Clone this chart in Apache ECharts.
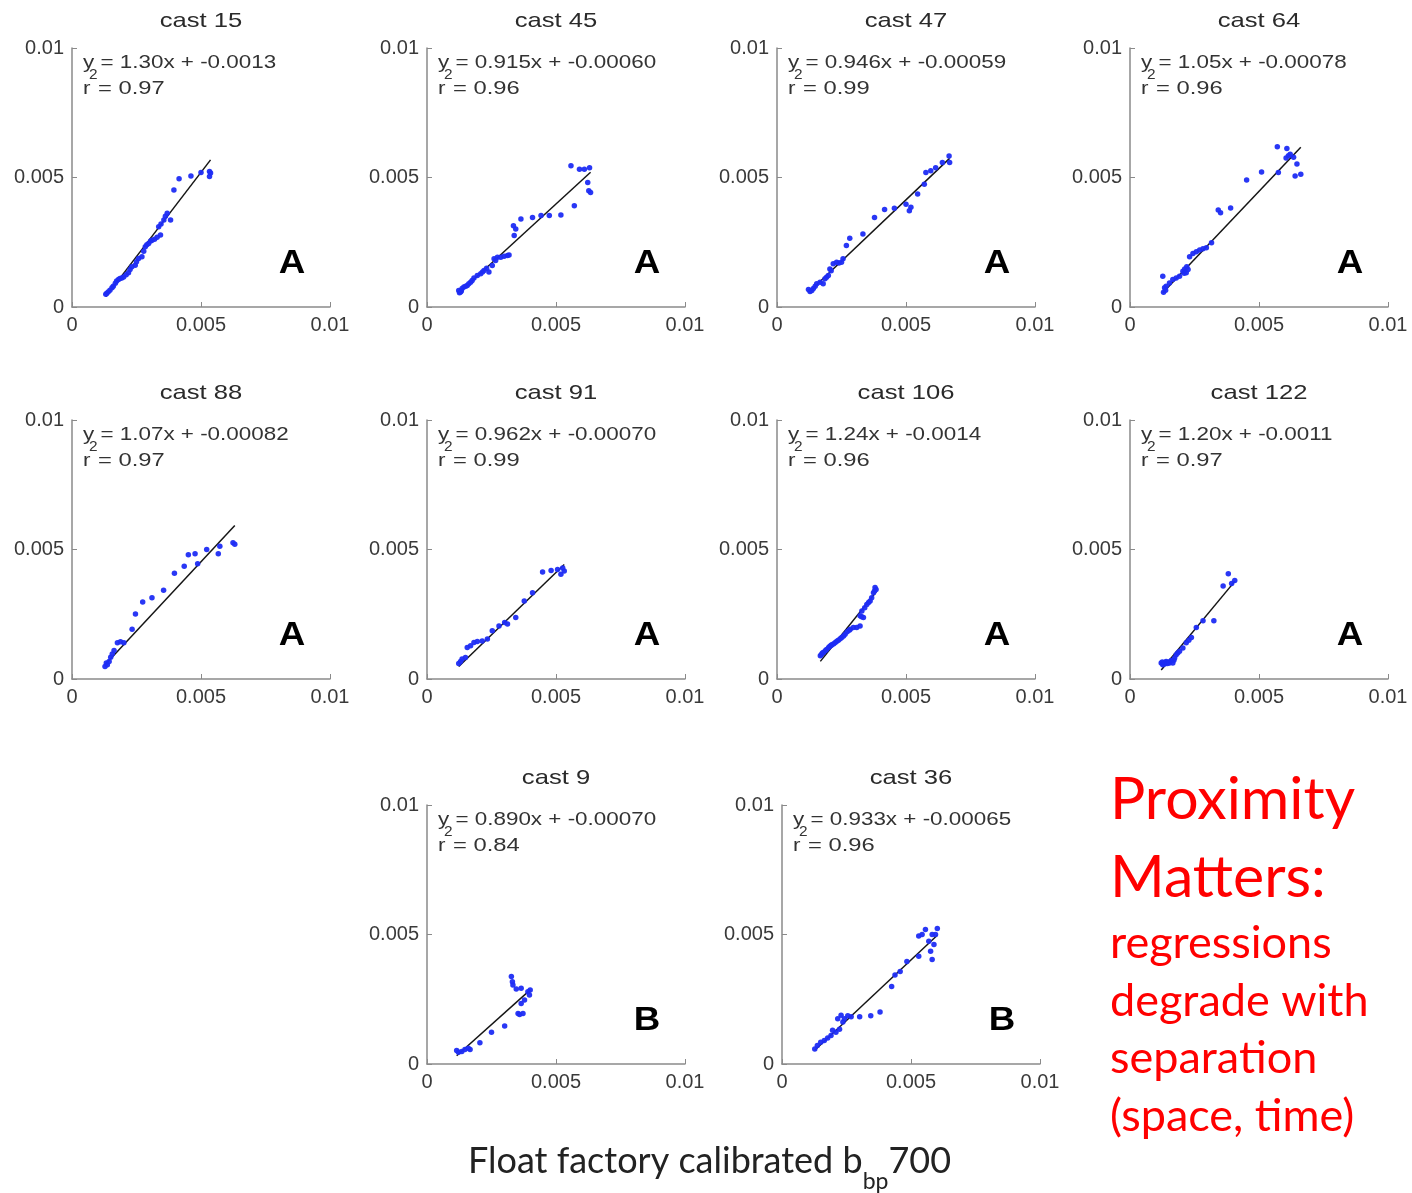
<!DOCTYPE html>
<html>
<head>
<meta charset="utf-8">
<script src="https://cdn.jsdelivr.net/npm/echarts@6/dist/echarts.min.js"></script>
<style>
  html, body { margin: 0; padding: 0; background: #fff; }
  #chart { width: 1412px; height: 1193px; }
</style>
</head>
<body>
<div id="chart"></div>
<script>
// all bbp values below are in units of 0.001 (converted when building the series)
const TITLES = ['cast 15', 'cast 45', 'cast 47', 'cast 64', 'cast 88', 'cast 91', 'cast 106', 'cast 122', 'cast 9', 'cast 36'];
const EQUATIONS = ['y = 1.30x + -0.0013', 'y = 0.915x + -0.00060', 'y = 0.946x + -0.00059', 'y = 1.05x + -0.00078',
  'y = 1.07x + -0.00082', 'y = 0.962x + -0.00070', 'y = 1.24x + -0.0014', 'y = 1.20x + -0.0011',
  'y = 0.890x + -0.00070', 'y = 0.933x + -0.00065'];
const R2 = ['0.97', '0.96', '0.99', '0.96', '0.97', '0.99', '0.96', '0.97', '0.84', '0.96'];
const GROUPS = ['A', 'A', 'A', 'A', 'A', 'A', 'A', 'A', 'B', 'B'];
const TICK_LABELS = ['0', '0.005', '0.01'];

const cast15 = [[1.31,0.49],[1.34,0.52],[1.40,0.58],[1.47,0.65],[1.55,0.74],[1.60,0.80],[1.68,0.92],[1.73,1.00],[1.80,1.06],
  [1.86,1.10],[1.93,1.12],[2.00,1.16],[2.10,1.25],[2.19,1.32],[2.25,1.45],[2.32,1.55],[2.45,1.61],[2.50,1.75],[2.58,1.87],
  [2.71,1.94],[2.78,2.15],[2.84,2.33],[2.90,2.40],[2.97,2.45],[3.05,2.55],[3.10,2.58],[3.20,2.62],[3.30,2.69],[3.43,2.78],
  [3.36,3.10],[3.45,3.20],[3.56,3.36],[3.62,3.50],[3.69,3.62],[3.82,3.36],[3.95,4.52],[4.15,4.95],[4.61,5.06],[5.00,5.19],
  [5.33,5.23],[5.33,5.04],[5.37,5.17]];
const cast45 = [[1.23,0.64],[1.26,0.55],[1.30,0.58],[1.33,0.62],[1.36,0.71],[1.43,0.77],[1.50,0.80],[1.56,0.83],[1.62,0.90],
  [1.69,0.96],[1.75,1.02],[1.82,1.12],[1.95,1.22],[2.08,1.28],[2.15,1.35],[2.21,1.41],[2.31,1.50],[2.40,1.35],[2.53,1.60],
  [2.60,1.86],[2.66,1.80],[2.73,1.92],[2.86,1.92],[2.99,1.96],[3.12,1.99],[3.18,2.01],[3.38,2.76],[3.44,3.01],[3.35,3.14],
  [3.64,3.40],[4.09,3.46],[4.42,3.53],[4.74,3.53],[5.19,3.55],[5.71,3.91],[5.58,5.45],[5.91,5.32],[6.10,5.32],[6.30,5.38],
  [6.23,4.81],[6.27,4.49],[6.34,4.42]];
const cast47 = [[1.22,0.68],[1.28,0.60],[1.35,0.64],[1.41,0.71],[1.48,0.80],[1.54,0.90],[1.67,0.96],[1.79,0.90],[1.86,1.09],
  [1.92,1.15],[1.99,1.22],[2.05,1.47],[2.10,1.40],[2.18,1.67],[2.31,1.73],[2.40,1.70],[2.50,1.73],[2.56,1.86],[2.69,2.37],
  [2.82,2.65],[3.33,2.82],[3.78,3.46],[4.17,3.76],[4.55,3.81],[5.00,3.97],[5.13,3.72],[5.19,3.85],[5.45,4.36],[5.71,4.74],
  [5.77,5.19],[5.96,5.26],[6.15,5.38],[6.41,5.58],[6.67,5.83],[6.69,5.58]];
const cast64 = [[1.27,1.19],[1.30,0.57],[1.34,0.74],[1.38,0.65],[1.40,0.80],[1.53,0.93],[1.66,1.06],[1.79,1.12],[1.92,1.19],
  [2.05,1.38],[2.10,1.30],[2.12,1.47],[2.18,1.32],[2.25,1.45],[2.20,1.55],[2.31,1.94],[2.44,2.07],[2.57,2.13],[2.70,2.20],
  [2.83,2.25],[2.96,2.29],[3.16,2.48],[3.42,3.75],[3.51,3.64],[3.90,3.82],[4.52,4.90],[5.10,5.21],[5.75,5.19],[5.71,6.19],
  [6.08,6.12],[6.21,5.90],[6.14,5.84],[6.05,5.75],[6.34,5.78],[6.40,5.06],[6.47,5.52],[6.62,5.13]];
const cast88 = [[1.28,0.48],[1.33,0.62],[1.37,0.55],[1.44,0.68],[1.50,0.84],[1.56,0.97],[1.63,1.10],[1.76,1.40],[1.88,1.44],
  [2.01,1.40],[2.33,1.92],[2.46,2.51],[2.74,2.97],[3.10,3.14],[3.55,3.43],[3.97,4.08],[4.35,4.35],[4.51,4.80],[4.77,4.84],
  [4.87,4.45],[5.22,5.00],[5.67,4.84],[5.73,5.13],[6.24,5.26],[6.31,5.20]];
const cast91 = [[1.23,0.60],[1.30,0.68],[1.36,0.77],[1.49,0.83],[1.56,1.22],[1.69,1.28],[1.82,1.41],[1.95,1.45],[2.14,1.47],
  [2.34,1.54],[2.53,1.86],[2.79,2.05],[3.01,2.18],[3.12,2.12],[3.44,2.37],[3.77,3.01],[4.09,3.33],[4.48,4.13],[4.81,4.19],
  [5.06,4.23],[5.19,4.04],[5.32,4.17],[5.26,4.29]];
const cast106 = [[1.68,0.90],[1.72,0.95],[1.76,1.00],[1.80,1.02],[1.87,1.09],[1.92,1.14],[2.00,1.22],[2.05,1.26],[2.10,1.30],
  [2.13,1.32],[2.20,1.36],[2.26,1.41],[2.32,1.46],[2.38,1.50],[2.45,1.55],[2.51,1.60],[2.58,1.66],[2.64,1.73],[2.72,1.82],
  [2.80,1.88],[2.84,1.92],[2.96,1.99],[3.09,1.99],[3.22,2.05],[3.22,2.44],[3.28,2.40],[3.35,2.37],[3.29,2.63],[3.40,2.75],
  [3.48,2.88],[3.55,2.95],[3.61,3.01],[3.67,3.14],[3.74,3.33],[3.80,3.53],[3.84,3.46],[3.78,3.40]];
const cast122 = [[1.21,0.62],[1.25,0.66],[1.27,0.55],[1.30,0.60],[1.34,0.58],[1.37,0.64],[1.40,0.68],[1.45,0.60],[1.50,0.66],
  [1.53,0.62],[1.60,0.71],[1.66,0.62],[1.70,0.72],[1.73,0.81],[1.79,0.94],[1.85,1.00],[1.92,1.07],[2.05,1.20],[2.18,1.40],
  [2.28,1.50],[2.38,1.60],[2.57,1.99],[2.83,2.25],[3.25,2.25],[3.61,3.59],[3.81,4.06],[3.94,3.69],[4.06,3.80]];
const cast9 = [[1.15,0.52],[1.22,0.45],[1.35,0.48],[1.47,0.56],[1.60,0.61],[1.67,0.56],[2.05,0.82],[2.50,1.23],[3.01,1.47],
  [3.27,3.38],[3.31,3.18],[3.33,3.05],[3.46,2.90],[3.65,2.92],[3.53,1.95],[3.59,1.91],[3.72,1.95],[3.65,2.34],[3.78,2.47],
  [3.91,2.79],[3.97,2.66],[4.00,2.86]];
const cast36 = [[1.27,0.58],[1.37,0.71],[1.50,0.84],[1.64,0.91],[1.77,1.00],[1.90,1.10],[1.96,1.30],[2.09,1.23],[2.23,1.34],
  [2.16,1.75],[2.29,1.88],[2.36,1.62],[2.42,1.75],[2.55,1.86],[2.68,1.82],[3.01,1.82],[3.44,1.86],[3.80,2.01],[4.25,2.99],
  [4.38,3.44],[4.58,3.57],[4.84,3.96],[5.30,4.16],[5.30,4.94],[5.43,5.00],[5.56,5.19],[5.69,4.74],[5.76,4.35],[5.82,4.03],
  [5.89,4.61],[5.95,5.00],[6.02,5.23],[5.82,5.00]];
const POINTS = [cast15, cast45, cast47, cast64, cast88, cast91, cast106, cast122, cast9, cast36];

// regression line end points (units of 0.001), from the printed fits over each data range
const FIT_LINES = [
  [[1.31,0.40],[5.37,5.68]], [[1.23,0.53],[6.34,5.20]], [[1.22,0.56],[6.69,5.74]], [[1.27,0.55],[6.62,6.17]],
  [[1.28,0.55],[6.31,5.93]], [[1.23,0.48],[5.32,4.42]], [[1.68,0.68],[3.84,3.36]], [[1.21,0.35],[4.06,3.77]],
  [[1.15,0.32],[4.00,2.86]], [[1.27,0.53],[6.02,4.97]]
];

const NOTE_BIG = ['Proximity', 'Matters:'];
const NOTE_SMALL = ['regressions', 'degrade with', 'separation', '(space, time)'];

// panel placement (px)
const PANELS = [
  [72, 48], [427, 48], [777, 48], [1130, 48],
  [72, 420], [427, 420], [777, 420], [1130, 420],
  [427, 805], [782, 805]
];
const W = 258, H = 259;
const FONT = '"Liberation Sans", Arial, sans-serif';
const AXIS_GREY = '#8a8a8a';

const chart = echarts.init(document.getElementById('chart'), null, { renderer: 'canvas' });

const grid = [], xAxis = [], yAxis = [], series = [], graphic = [];

PANELS.forEach(([left, top], i) => {
  grid.push({ left: left, top: top, width: W, height: H });
  const axisBase = {
    gridIndex: i, type: 'value', min: 0, max: 0.01, interval: 0.005,
    splitLine: { show: false },
    axisLine: { lineStyle: { color: AXIS_GREY, width: 1.5 } },
    axisTick: { inside: true, length: 5, lineStyle: { color: AXIS_GREY } },
    axisLabel: {
      color: '#3a3a3a', fontSize: 20, fontFamily: FONT, margin: 8,
      formatter: v => TICK_LABELS[Math.round(v / 0.005)]
    }
  };
  xAxis.push(Object.assign({}, axisBase));
  yAxis.push(Object.assign({}, axisBase));

  series.push({
    type: 'line', xAxisIndex: i, yAxisIndex: i, z: 2,
    data: FIT_LINES[i].map(p => [p[0] * 1e-3, p[1] * 1e-3]),
    symbol: 'none', silent: true,
    lineStyle: { color: '#151515', width: 1.5 }
  });
  series.push({
    type: 'scatter', xAxisIndex: i, yAxisIndex: i, z: 3,
    data: POINTS[i].map(p => [p[0] * 1e-3, p[1] * 1e-3]),
    symbol: 'circle', symbolSize: 5.5,
    itemStyle: { color: '#1e2cf4', opacity: 0.95 }
  });

  // MATLAB-exported text looks horizontally stretched, hence the scaleX
  const txt = (x, y, text, size, sx, extra) => ({
    type: 'text', x: x, y: y, scaleX: sx, silent: true,
    style: Object.assign({ text: text, fontSize: size, fontFamily: FONT, fill: '#333',
      align: 'left', verticalAlign: 'middle' }, extra || {})
  });
  graphic.push(txt(left + W / 2, top - 27, TITLES[i], 21, 1.22, { align: 'center', fill: '#2a2a2a' }));
  graphic.push(txt(left + 11, top + 15, EQUATIONS[i], 19, 1.18));
  graphic.push(txt(left + 11, top + 41, 'r', 19, 1.18));
  graphic.push(txt(left + 17, top + 27, '2', 14, 1.1));
  graphic.push(txt(left + 26, top + 41, '= ' + R2[i], 19, 1.25));
  graphic.push(txt(left + 220, top + 216, GROUPS[i], 34, 1.08,
    { align: 'center', fontWeight: 'bold', fill: '#000' }));
});

// red note on the right
NOTE_BIG.forEach((line, k) => {
  graphic.push({
    type: 'text', x: 1110, y: 829 + k * 78, silent: true,
    style: { text: line, fontSize: 59, fontFamily: 'Lato, sans-serif', fill: '#ff0000', verticalAlign: 'bottom' }
  });
});
NOTE_SMALL.forEach((line, k) => {
  graphic.push({
    type: 'text', x: 1110, y: 966 + k * 57.5, silent: true,
    style: { text: line, fontSize: 45, fontFamily: 'Lato, sans-serif', fill: '#ff0000', verticalAlign: 'bottom' }
  });
});

// shared x axis caption
graphic.push({
  type: 'text', x: 468, y: 1143, silent: true,
  style: {
    text: '{a|Float factory calibrated b}{s|bp}{a|700}',
    fontFamily: 'Lato, sans-serif', fill: '#222', verticalAlign: 'top',
    rich: {
      a: { fontSize: 36, lineHeight: 40, verticalAlign: 'top', fontFamily: 'Lato, sans-serif', color: '#222' },
      s: { fontSize: 23, lineHeight: 23, padding: [27, 0, 0, 0], verticalAlign: 'top', fontFamily: 'Lato, sans-serif', color: '#222' }
    }
  }
});

chart.setOption({
  backgroundColor: '#ffffff',
  animation: false,
  grid: grid,
  xAxis: xAxis,
  yAxis: yAxis,
  series: series,
  graphic: graphic
});
</script>
</body>
</html>
